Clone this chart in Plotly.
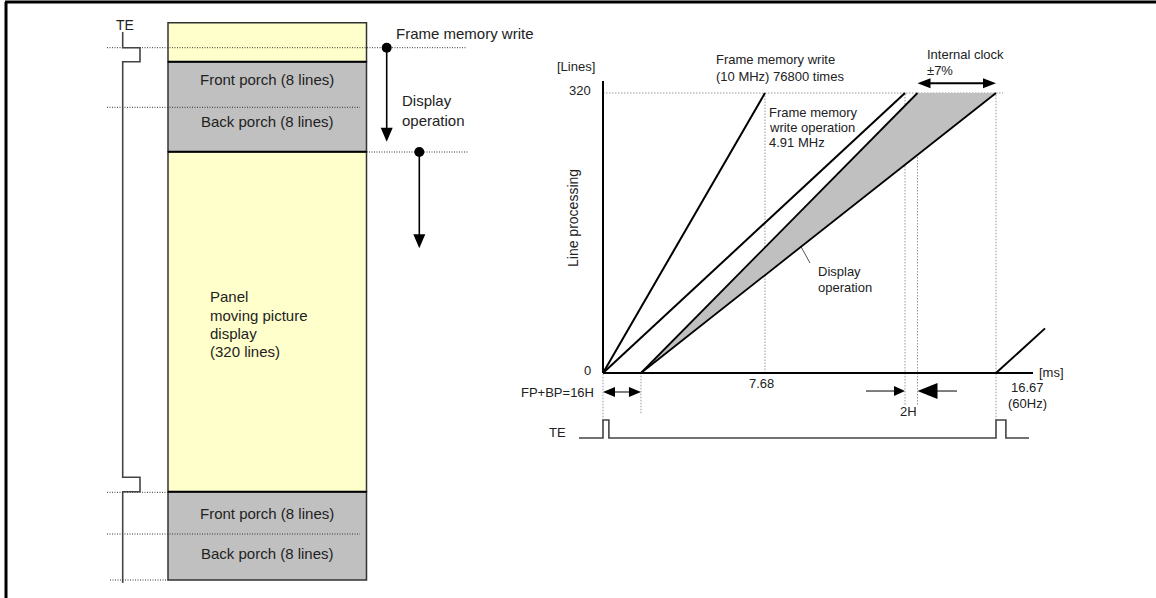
import plotly.graph_objects as go

W, H = 1156, 598

# ---------------- Data: right chart (time axis as drawn, line axis) ----------------
fast_write_t = [0.0, 6.87]      # frame memory write (10 MHz) 76800 times -> "7.68"
fast_write_l = [0, 320]
mem_write_t = [0.0, 12.81]      # frame memory write operation 4.91 MHz
mem_write_l = [0, 320]
disp_early_t = [1.61, 13.34]    # display operation, internal clock +7%
disp_late_t = [1.61, 16.67]     # display operation, internal clock -7%
disp_l = [0, 320]
next_frame_t = [16.67, 18.75]
next_frame_l = [0, 51]
te_right_t = [-1.02, 0.0, 0.0, 0.25, 0.25, 16.67, 16.67, 17.09, 17.09, 18.07]
te_right_level = [0, 0, 1, 1, 0, 0, 1, 1, 0, 0]
x_tick_vals = [6.87, 16.67]
x_tick_text = [["7.68"], ["16.67", "(60Hz)"]]
y_tick_vals = [0, 320]
y_tick_text = ["0", "320"]
fp_bp_t = [0.0, 1.61]           # FP+BP = 16H
two_h_t = [12.81, 13.34]        # 2H
clock_range_t = [13.34, 16.67]  # internal clock +-7%
x_axis_end_t = 18.24
y_axis_end_l = 333.7

# ---------------- Data: left diagram ----------------
block_labels = [[], ["Front porch (8 lines)"], ["Back porch (8 lines)"],
                ["Panel", "moving picture", "display", "(320 lines)"],
                ["Front porch (8 lines)"], ["Back porch (8 lines)"]]
block_lines = [None, 8, 8, 320, 8, 8]
block_kind = ["display", "porch", "porch", "display", "porch", "porch"]

# ---------------- Layout geometry ----------------
OX, OY = 603.0, 373.0     # chart origin in pixels
SX, SY = 23.575, 0.875     # px per ms, px per line

FONT = "Liberation Sans, Arial, sans-serif"
TXT = "#222222"
YELLOW = "#FFFFCC"
GRAY = "#C0C0C0"

fig = go.Figure()


def tx(t):
    return OX + t * SX


def ty(l):
    return OY - l * SY


def seg(x, y, color="black", width=2, dash=None, axis="pix"):
    xa, ya = ("x", "y") if axis == "pix" else ("x2", "y2")
    fig.add_trace(go.Scatter(x=x, y=y, mode="lines",
                             line=dict(color=color, width=width, dash=dash),
                             xaxis=xa, yaxis=ya, hoverinfo="skip", showlegend=False))


def poly(x, y, color, axis="pix"):
    xa, ya = ("x", "y") if axis == "pix" else ("x2", "y2")
    fig.add_trace(go.Scatter(x=x, y=y, mode="lines", fill="toself", fillcolor=color,
                             line=dict(color=color, width=0),
                             xaxis=xa, yaxis=ya, hoverinfo="skip", showlegend=False))


def tri(tipx, tipy, dx, dy, length, hw, color="black"):
    n = (dx * dx + dy * dy) ** 0.5
    ux, uy = dx / n, dy / n
    bx, by = tipx - ux * length, tipy - uy * length
    poly([tipx, bx - uy * hw, bx + uy * hw, tipx],
         [tipy, by + ux * hw, by - ux * hw, tipy], color)


def text(x, y, s, size=14, xanchor="center", ref="pix", angle=0):
    xr, yr = ("x", "y") if ref == "pix" else ("x2", "y2")
    fig.add_annotation(x=x, y=y, xref=xr, yref=yr, text=s, showarrow=False,
                       xanchor=xanchor, yanchor="middle", textangle=angle,
                       font=dict(family=FONT, size=size, color=TXT))


def mtext(x, y0, lines, spacing, size=13, xanchor="left"):
    """multi-line text in pixel space with explicit line spacing"""
    for i, s in enumerate(lines):
        text(x, y0 + i * spacing, s, size, xanchor)


# ---------------- Border ----------------
seg([5, W], [2, 2], "black", 3)
seg([6, 6], [2, H], "black", 3)

# ---------------- Left diagram ----------------
BX0, BX1 = 168.0, 366.5
edges = [22.7, 61.7, 107.3, 151.7, 491.7, 534.0, 580.0]
groups = [(edges[0], edges[1], YELLOW), (edges[1], edges[3], GRAY),
          (edges[3], edges[4], YELLOW), (edges[4], edges[6], GRAY)]
for y0, y1, c in groups:
    fig.add_shape(type="rect", x0=BX0, x1=BX1, y0=y0, y1=y1, xref="x", yref="y",
                  fillcolor=c, line=dict(color="#333333", width=1.5), layer="below")

DOT_L = "1px,1.5px"
seg([107, 467], [47.7, 47.7], "#333", 1, DOT_L)
seg([107, 360], [107.3, 107.3], "#333", 1, DOT_L)
seg([BX1, 468], [152, 152], "#333", 1, DOT_L)
seg([107, BX0], [492.3, 492.3], "#333", 1, DOT_L)
seg([107, 360], [534, 534], "#333", 1, DOT_L)
seg([110, BX0], [580, 580], "#333", 1, DOT_L)

for yy in (edges[1], edges[3], edges[4]):
    seg([BX0, BX1], [yy, yy], "black", 2)

# TE signal (left)
seg([122.7, 122.7, 140, 140, 122.7, 122.7, 140, 140, 122.7, 122.7],
    [32, 47.7, 47.7, 61.7, 61.7, 477.3, 477.3, 491.7, 491.7, 583],
    "#444444", 1.6)

# arrows
seg([386.7, 386.7], [47.7, 130], "black", 1.6)
tri(386.7, 141.7, 0, 1, 14, 6)
seg([419.3, 419.3], [152, 236], "black", 1.6)
tri(419.3, 248.3, 0, 1, 14, 6)
fig.add_trace(go.Scatter(x=[386.7, 419.3], y=[47.7, 152], mode="markers",
                         marker=dict(color="black", size=10), xaxis="x", yaxis="y",
                         hoverinfo="skip", showlegend=False))

text(125, 25, "TE", 14)
text(394, 33, "Frame memory write", 15, "left")
mtext(400, 100, ["Display", "operation"], 20, 15)
label_y = [None, 79, 121.7, 296.7, 513.3, 553.3]
for lab, ly, kind in zip(block_labels, label_y, block_kind):
    if not lab:
        continue
    if kind == "display":
        mtext(208, ly, lab, 18.3, 15, "left")
    else:
        mtext(267, ly, lab, 0, 15, "center")

# ---------------- Right chart ----------------
DOT_R = "1.5px,1.5px"
RG = "#999999"
seg([0, 16.97], [320, 320], RG, 1, DOT_R, "d")
seg([x_tick_vals[0]] * 2, [0, 320], RG, 1, DOT_R, "d")
seg([two_h_t[0]] * 2, [-36, 320], RG, 1, DOT_R, "d")
seg([two_h_t[1]] * 2, [-36, 320], RG, 1, DOT_R, "d")
seg([16.67, 16.67], [-54, 320], RG, 1, DOT_R, "d")
seg([0, 0], [-54, 0], RG, 1, DOT_R, "d")
seg([fp_bp_t[1]] * 2, [-46, 0], RG, 1, DOT_R, "d")

poly([disp_early_t[0], disp_early_t[1], disp_late_t[1], disp_late_t[0]],
     [disp_l[0], disp_l[1], disp_l[1], disp_l[0]], GRAY, "d")

seg(fast_write_t, fast_write_l, "black", 2, None, "d")
seg(mem_write_t, mem_write_l, "black", 2, None, "d")
seg(disp_early_t, disp_l, "black", 1.8, None, "d")
seg(disp_late_t, disp_l, "black", 1.8, None, "d")
seg(next_frame_t, next_frame_l, "black", 2, None, "d")

seg([0, 0], [0, y_axis_end_l], "black", 2, None, "d")
seg([0, x_axis_end_t], [0, 0], "black", 2, None, "d")

te_y = [-74.3 if v == 0 else -53.7 for v in te_right_level]
seg(te_right_t, te_y, "#444444", 1.6, None, "d")

ya = ty(331.1)
seg([tx(clock_range_t[0]) + 8, tx(clock_range_t[1]) - 8], [ya, ya], "black", 2)
tri(tx(clock_range_t[0]), ya, -1, 0, 13, 5)
tri(tx(clock_range_t[1]), ya, 1, 0, 13, 5)

yb = ty(-21.7)
seg([tx(fp_bp_t[0]) + 6, tx(fp_bp_t[1]) - 6], [yb, yb], "black", 1)
tri(tx(fp_bp_t[0]), yb, -1, 0, 12, 5)
tri(tx(fp_bp_t[1]), yb, 1, 0, 12, 5)

yc = ty(-20.6)
seg([866, tx(two_h_t[0]) - 8], [yc, yc], "black", 1)
tri(tx(two_h_t[0]), yc, 1, 0, 11, 5)
seg([tx(two_h_t[1]) + 15, 957], [yc, yc], "black", 1)
tri(tx(two_h_t[1]), yc, -1, 0, 20, 8)

seg([810, 799], [263, 243], "#555555", 1)
tri(794.5, 234, -13, -29, 13, 6)

for v, s in zip(y_tick_vals, y_tick_text):
    text(-0.42, v + 2.5, s, 13, "right", "d")
mtext(tx(x_tick_vals[0]) - 3, 383.3, x_tick_text[0], 16, 13, "center")
mtext(tx(x_tick_vals[1]) + 31, 387.3, x_tick_text[1], 16, 13, "center")
text(18.4, 0.8, "[ms]", 13, "left", "d")
text(576, 66, "[Lines]", 13)
text(573, 218, "Line processing", 14, angle=-90)
mtext(714, 59.5, ["Frame memory write", "(10 MHz) 76800 times"], 16.5, 13)
mtext(767, 112.7, ["Frame memory", "write operation", "4.91 MHz"], 15, 13)
mtext(925, 54, ["Internal clock", "±7%"], 16.7, 13)
mtext(815.7, 271.7, ["Display", "operation"], 15.6, 13)
text(596, 392, "FP+BP=16H", 13, "right")
text(908, 411.7, "2H", 13)
text(557, 432, "TE", 13)

fig.update_layout(
    width=W, height=H, margin=dict(l=0, r=0, t=0, b=0),
    paper_bgcolor="white", plot_bgcolor="white", showlegend=False,
    xaxis=dict(range=[0, W], visible=False, fixedrange=True),
    yaxis=dict(range=[H, 0], visible=False, fixedrange=True),
    xaxis2=dict(range=[(0 - OX) / SX, (W - OX) / SX], overlaying="x", anchor="y2",
                visible=False, fixedrange=True),
    yaxis2=dict(range=[(OY - H) / SY, OY / SY], overlaying="y", anchor="x2",
                visible=False, fixedrange=True),
)

fig.write_html("out.html", config={"displayModeBar": False},
               post_script="document.body.style.margin='0';document.body.style.overflow='hidden';")
